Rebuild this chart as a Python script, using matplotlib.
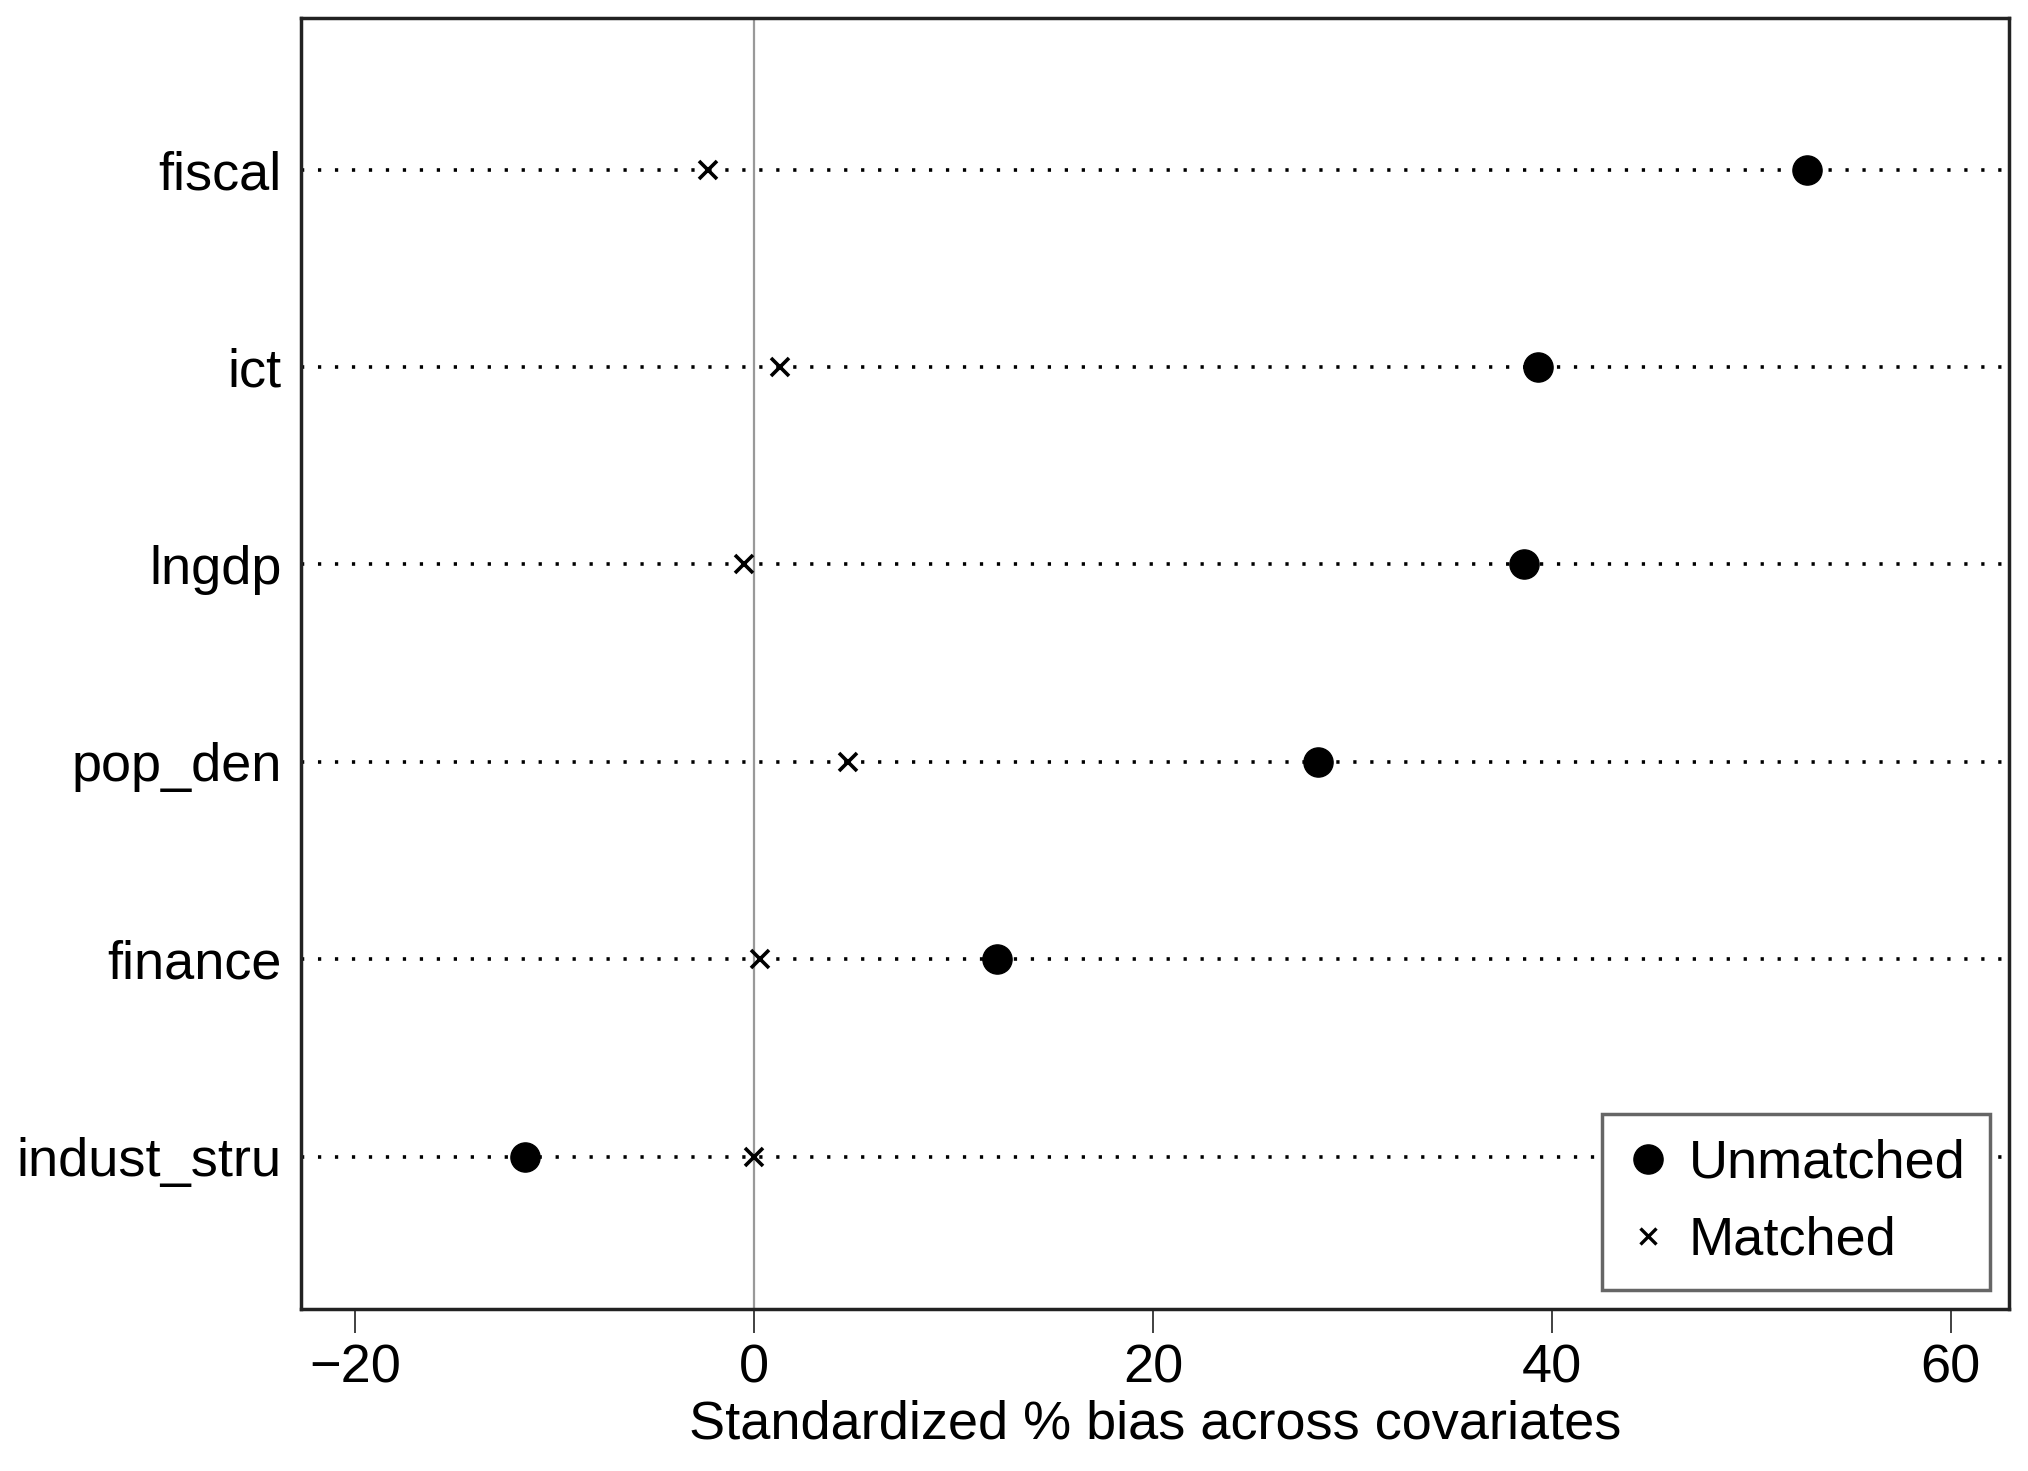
import numpy as np
import matplotlib.pyplot as plt
from matplotlib.lines import Line2D

# covariates, bottom to top
covariates = ["indust_stru", "finance", "pop_den", "lngdp", "ict", "fiscal"]
unmatched = [-11.5, 12.2, 28.3, 38.6, 39.3, 52.8]
matched = [0.0, 0.3, 4.7, -0.5, 1.3, -2.3]
xticks = [-20, 0, 20, 40, 60]

plt.rcParams['font.family'] = ['Liberation Sans', 'DejaVu Sans']

fig = plt.figure(figsize=(20.28, 14.71), dpi=100)
ax = fig.add_axes([0.1486, 0.110, 0.8418, 0.8777])

ypos = np.arange(1, len(covariates) + 1)

# dotted guide lines for each covariate
for y in ypos:
    ax.axhline(y, color="black", lw=2.6, linestyle=(0, (0.9, 3.8)), zorder=1)

ax.axvline(0, color="#999999", lw=1.6, zorder=1)

ax.plot(unmatched, ypos, "o", color="black", markersize=21, linestyle="none", zorder=3)
ax.plot(matched, ypos, "x", color="black", markersize=13, markeredgewidth=2.6,
        linestyle="none", zorder=3)

ax.set_xlim(-22.7, 62.9)
ax.set_ylim(0.227, 6.767)
ax.set_yticks(ypos)
ax.set_yticklabels(covariates)
ax.set_xticks(xticks)
ax.set_xticklabels([str(t).replace("-", "\u2212") for t in xticks])

ax.tick_params(axis="y", length=0, pad=14, labelsize=39)
ax.tick_params(axis="x", length=17, width=1.3, pad=8, labelsize=39, color="#333333")
for sp in ax.spines.values():
    sp.set_linewidth(2.5)
    sp.set_color("#222222")

ax.set_xlabel("Standardized % bias across covariates", fontsize=39, labelpad=4)

handles = [
    Line2D([], [], marker="o", color="black", markersize=21, linestyle="none"),
    Line2D([], [], marker="x", color="black", markersize=11, markeredgewidth=2.4,
           linestyle="none"),
]
leg = ax.legend(handles, ["Unmatched", "Matched"], loc="lower right", fontsize=39,
                frameon=True, fancybox=False, borderaxespad=0.35, handletextpad=0.35,
                handlelength=0.8, borderpad=0.45, labelspacing=0.5)
leg.get_frame().set_edgecolor("#666666")
leg.get_frame().set_linewidth(2.5)
leg.get_frame().set_alpha(1)

fig.savefig("out.png", dpi=100)
